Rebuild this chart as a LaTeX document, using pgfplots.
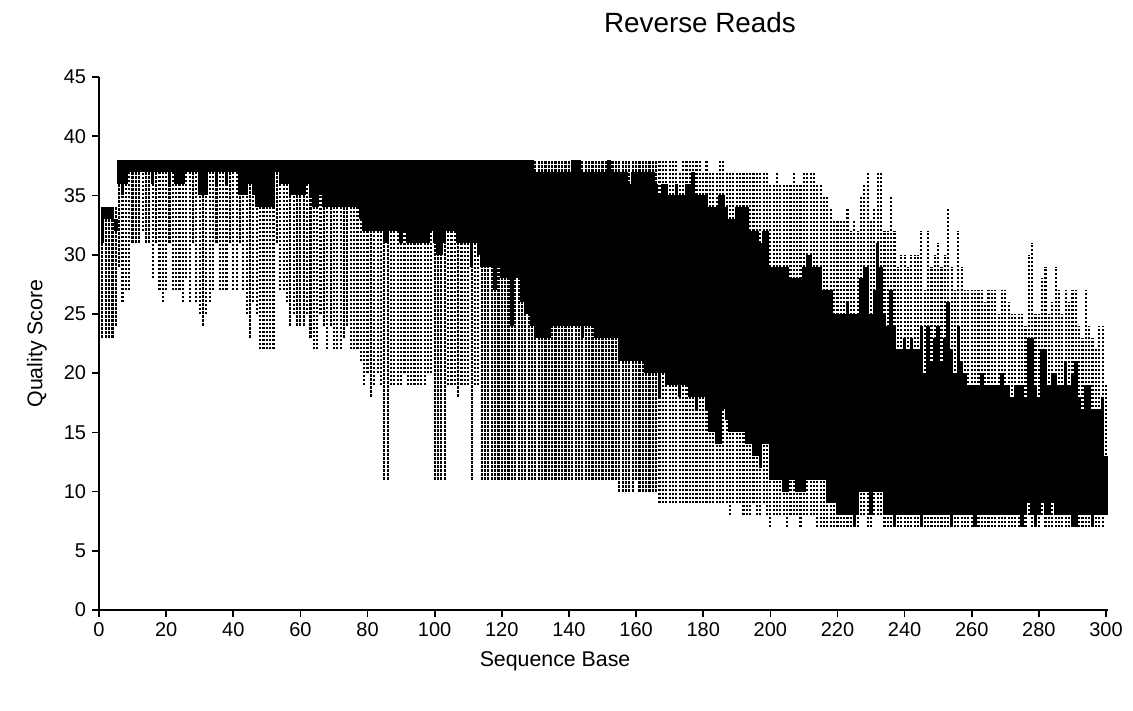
\documentclass[border=0pt]{standalone}
\usepackage{fontspec}
\setmainfont{Liberation Sans}
\usepackage{pgfplots}
\usepackage{pgfplotstable}
\pgfplotsset{compat=1.18}

% per-base quality: lower whisker, lower quartile, upper quartile, upper whisker
\pgfplotstableread{
x lw q1 q3 uw
1 23 31 34 34
2 23 33 34 34
3 23 33 34 34
4 23 33 34 34
5 24 32 33 34
6 29 36 38 38
7 26 35 38 38
8 27 36 38 38
9 27 37 38 38
10 31 37 38 38
11 31 37 38 38
12 31 37 38 38
13 32 37 38 38
14 31 37 38 38
15 31 37 38 38
16 28 36 38 38
17 31 37 38 38
18 27 37 38 38
19 26 37 38 38
20 27 37 38 38
21 31 36 38 38
22 27 37 38 38
23 27 36 38 38
24 27 36 38 38
25 26 36 38 38
26 28 37 38 38
27 26 37 38 38
28 31 37 38 38
29 26 37 38 38
30 25 35 38 38
31 24 35 38 38
32 25 35 38 38
33 26 37 38 38
34 27 37 38 38
35 31 36 38 38
36 27 37 38 38
37 27 37 38 38
38 27 36 38 38
39 31 37 38 38
40 27 37 38 38
41 27 37 38 38
42 31 35 38 38
43 27 35 38 38
44 25 35 38 38
45 23 36 38 38
46 26 35 38 38
47 25 34 38 38
48 22 34 38 38
49 22 34 38 38
50 22 34 38 38
51 22 34 38 38
52 22 34 38 38
53 31 37 38 38
54 27 36 38 38
55 27 36 38 38
56 26 36 38 38
57 24 35 38 38
58 25 35 38 38
59 24 35 38 38
60 24 35 38 38
61 24 35 38 38
62 25 36 38 38
63 23 35 38 38
64 22 34 38 38
65 22 34 38 38
66 25 35 38 38
67 24 34 38 38
68 22 34 38 38
69 24 34 38 38
70 22 34 38 38
71 22 34 38 38
72 22 34 38 38
73 23 34 38 38
74 24 34 38 38
75 22 34 38 38
76 22 34 38 38
77 22 34 38 38
78 21 33 38 38
79 19 32 38 38
80 20 32 38 38
81 18 32 38 38
82 19 32 38 38
83 20 32 38 38
84 19 32 38 38
85 11 31 38 38
86 11 31 38 38
87 19 32 38 38
88 19 32 38 38
89 19 32 38 38
90 19 31 38 38
91 20 32 38 38
92 19 31 38 38
93 19 31 38 38
94 19 31 38 38
95 19 31 38 38
96 19 31 38 38
97 19 31 38 38
98 20 31 38 38
99 20 32 38 38
100 11 31 38 38
101 11 30 38 38
102 11 30 38 38
103 11 31 38 38
104 19 32 38 38
105 19 32 38 38
106 19 32 38 38
107 18 31 38 38
108 19 31 38 38
109 19 31 38 38
110 19 31 38 38
111 11 29 38 38
112 19 31 38 38
113 19 30 38 38
114 11 29 38 38
115 11 29 38 38
116 11 29 38 38
117 11 29 38 38
118 11 27 38 38
119 11 29 38 38
120 11 28 38 38
121 11 28 38 38
122 11 28 38 38
123 11 24 38 38
124 11 28 38 38
125 11 28 38 38
126 11 26 38 38
127 11 25 38 38
128 11 25 38 38
129 11 24 38 38
130 11 23 37 38
131 11 23 37 38
132 11 23 37 38
133 11 23 37 38
134 11 23 37 38
135 11 24 37 38
136 11 24 37 38
137 11 24 37 38
138 11 24 37 38
139 11 24 37 38
140 11 24 37 38
141 11 24 38 38
142 11 24 38 38
143 11 24 38 38
144 11 23 37 38
145 11 24 37 38
146 11 24 37 38
147 11 24 37 38
148 11 23 37 38
149 11 23 37 38
150 11 23 37 38
151 11 23 37 38
152 11 23 38 38
153 11 23 37 38
154 11 23 37 38
155 10 21 37 38
156 10 21 37 38
157 10 21 37 38
158 10 21 36 38
159 10 21 37 38
160 11 21 37 38
161 10 21 37 38
162 10 21 37 38
163 10 20 37 38
164 10 20 37 38
165 10 20 37 38
166 10 20 36 38
167 9 18 35 38
168 9 20 36 38
169 9 19 36 38
170 9 19 35 38
171 9 19 35 38
172 9 19 36 38
173 9 18 35 37
174 9 19 35 38
175 9 19 36 38
176 9 18 36 38
177 9 18 37 38
178 9 17 35 38
179 9 18 35 38
180 9 18 35 37
181 9 17 35 38
182 9 15 34 37
183 9 15 34 37
184 9 14 34 37
185 9 14 35 38
186 9 17 35 38
187 9 16 34 37
188 8 15 33 37
189 9 15 33 37
190 9 15 34 37
191 9 15 34 37
192 8 15 34 37
193 8 14 34 37
194 8 14 32 37
195 9 13 32 37
196 8 13 32 37
197 8 12 31 37
198 9 14 32 37
199 8 14 32 37
200 7 11 29 36
201 8 11 29 36
202 8 11 29 37
203 8 11 29 36
204 8 10 29 36
205 7 10 29 36
206 8 11 28 36
207 8 11 28 37
208 8 10 28 36
209 7 10 28 36
210 8 10 29 37
211 8 11 30 37
212 8 11 30 37
213 8 11 29 37
214 7 11 29 36
215 7 11 29 36
216 7 11 27 35
217 7 9 27 35
218 7 9 27 34
219 7 9 25 33
220 7 8 25 33
221 7 8 25 33
222 7 8 25 33
223 7 8 26 34
224 7 8 25 32
225 7 7 25 33
226 7 8 25 32
227 8 10 28 35
228 8 10 29 36
229 7 10 29 37
230 7 8 25 33
231 8 10 27 34
232 8 10 31 37
233 8 10 29 37
234 7 8 25 32
235 7 8 24 32
236 7 8 27 35
237 7 7 24 32
238 7 8 22 29
239 7 8 22 30
240 7 8 23 30
241 7 8 22 29
242 7 8 23 30
243 7 8 22 30
244 7 8 22 30
245 7 7 24 32
246 7 8 20 27
247 7 8 24 32
248 7 8 21 29
249 7 8 23 30
250 7 8 24 31
251 7 8 21 29
252 7 8 23 30
253 7 8 26 34
254 7 7 22 29
255 7 8 20 27
256 7 8 24 32
257 7 8 21 29
258 7 8 20 27
259 7 8 19 27
260 7 8 19 27
261 7 7 19 27
262 7 8 19 27
263 7 8 20 27
264 7 8 19 26
265 7 8 19 27
266 7 8 19 27
267 7 8 19 27
268 7 8 19 25
269 7 8 20 27
270 7 8 19 27
271 7 8 19 26
272 7 8 18 25
273 7 8 19 25
274 7 8 19 25
275 7 7 19 25
276 7 8 18 24
277 8 9 23 30
278 7 8 23 31
279 7 7 19 25
280 7 8 18 25
281 8 9 22 28
282 7 8 22 29
283 7 8 19 25
284 7 9 20 26
285 7 8 20 29
286 7 8 19 27
287 7 8 19 25
288 7 8 21 27
289 7 8 19 26
290 7 7 20 27
291 7 7 21 27
292 7 8 18 24
293 7 8 17 23
294 7 8 19 27
295 7 8 19 24
296 7 7 17 23
297 7 8 17 22
298 7 8 17 24
299 7 8 18 24
300 8 8 13 19
}\reads

\begin{document}
\begin{tikzpicture}
	\begin{axis}[
		scale only axis,
		width=605.4pt, height=319.8pt,
		xmin=0, xmax=300.6, ymin=0, ymax=45,
		axis lines*=left,
		axis line style={line width=1.2pt},
		tick align=outside,
		major tick length=4.2pt,
		tick style={line width=1pt, black},
		xtick={0,20,...,300},
		ytick={0,5,...,45},
		/pgf/number format/assume math mode=true,
		tick label style={font=\fontsize{12}{14}\selectfont},
		label style={font=\fontsize{12.8}{15}\selectfont},
		title style={font=\fontsize{16.7}{20}\selectfont},
		title={Reverse Reads},
		title style={at={(rel axis cs:0.5956,1.0825)}, anchor=center},
		xlabel={Sequence Base},
		xlabel style={at={(rel axis cs:0.452,-0.0957)}, anchor=center},
		ylabel={Quality Score},
		ylabel style={at={(rel axis cs:-0.0615,0.5)}, anchor=center},
		]
	% whiskers
	\addplot[draw=none, mark=none,
		error bars/.cd, y dir=plus, y explicit, error mark=none,
		error bar style={draw=black, line width=1.3pt, dash pattern=on 1.4pt off 1pt}]
		table[x=x, y=lw, y error expr=\thisrow{uw}-\thisrow{lw}] {\reads};
	% boxes
	\addplot[draw=none, mark=none,
		error bars/.cd, y dir=plus, y explicit, error mark=none,
		error bar style={draw=black, solid, line width=2.1pt}]
		table[x=x, y=q1, y error expr=\thisrow{q3}-\thisrow{q1}] {\reads};
	\coordinate (sw) at (rel axis cs:0,0);
	\end{axis}
	\pgfresetboundingbox
	\path ([shift={(-59.4pt,-60pt)}]sw) rectangle ([shift={(620.4pt,366pt)}]sw);
\end{tikzpicture}
\end{document}
